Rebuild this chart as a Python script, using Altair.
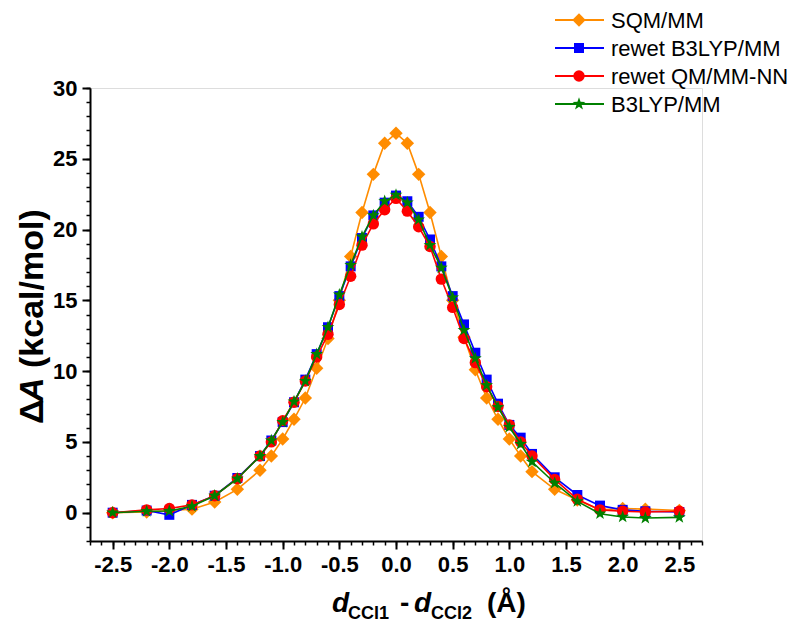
import altair as alt
import pandas as pd

# ---------------- data ----------------
X = [-2.5, -2.2, -2.0, -1.8, -1.6, -1.4, -1.2, -1.1, -1.0, -0.9, -0.8, -0.7, -0.6,
     -0.5, -0.4, -0.3, -0.2, -0.1, 0.0, 0.1, 0.2, 0.3, 0.4, 0.5, 0.6, 0.7, 0.8,
     0.9, 1.0, 1.1, 1.2, 1.4, 1.6, 1.8, 2.0, 2.2, 2.5]

SQM_MM = [0.0, 0.05, 0.15, 0.25, 0.75, 1.65, 3.0, 4.0, 5.2, 6.6, 8.1, 10.2, 12.3,
          15.0, 18.1, 21.2, 23.9, 26.1, 26.8, 26.1, 23.9, 21.2, 18.1, 15.0, 12.4, 10.1, 8.1,
          6.6, 5.2, 4.0, 2.9, 1.65, 0.9, 0.2, 0.3, 0.25, 0.15]

REWET_B3LYP = [0.0, 0.15, -0.15, 0.55, 1.2, 2.45, 4.0, 5.1, 6.4, 7.8, 9.4, 11.2, 13.1,
               15.3, 17.4, 19.4, 21.0, 21.9, 22.4, 22.0, 20.9, 19.3, 17.4, 15.3, 13.3, 11.3, 9.4,
               7.7, 6.2, 5.3, 4.15, 2.5, 1.25, 0.5, 0.2, 0.1, 0.05]

REWET_NN = [0.0, 0.2, 0.3, 0.55, 1.2, 2.4, 4.0, 5.0, 6.5, 7.8, 9.3, 11.0, 12.6,
            14.7, 16.7, 18.9, 20.4, 21.4, 22.2, 21.3, 20.2, 18.8, 16.5, 14.5, 12.3, 10.6, 8.9,
            7.5, 6.2, 5.0, 4.0, 2.35, 0.95, 0.2, 0.1, 0.05, 0.1]

B3LYP_MM = [0.0, 0.1, 0.12, 0.45, 1.2, 2.4, 4.0, 5.1, 6.4, 7.85, 9.3, 11.2, 13.1,
            15.4, 17.5, 19.5, 21.0, 22.0, 22.45, 21.9, 20.7, 18.9, 17.3, 15.2, 12.9, 10.9, 9.0,
            7.45, 6.05, 4.85, 3.6, 2.1, 0.8, -0.07, -0.3, -0.38, -0.33]

NAMES = ["SQM/MM", "rewet B3LYP/MM", "rewet QM/MM-NN", "B3LYP/MM"]
SERIES = [SQM_MM, REWET_B3LYP, REWET_NN, B3LYP_MM]

X_MAJOR = [-2.5, -2.0, -1.5, -1.0, -0.5, 0.0, 0.5, 1.0, 1.5, 2.0, 2.5]
X_MINOR = [round(-2.7 + 0.1 * i, 1) for i in range(55)]
Y_MAJOR = [0, 5, 10, 15, 20, 25, 30]
Y_MINOR = list(range(-2, 31))

# ---------------- style ----------------
FONT = "Liberation Sans"
NBSP = "\u00a0"
COLORS = ["#FF8C00", "#0000FF", "#FF0000", "#008000"]
STAR = ("M0,-1L0.235,-0.324L0.951,-0.309L0.38,0.124L0.588,0.809L0,0.4"
        "L-0.588,0.809L-0.38,0.124L-0.951,-0.309L-0.235,-0.324Z")
SHAPES = ["diamond", "square", "circle", STAR]
SIZES = [180, 100, 130, 180]

W, H = 612, 453
xscale = alt.Scale(domain=[-2.7, 2.7], nice=False, zero=False)
yscale = alt.Scale(domain=[-2, 30], nice=False, zero=False)

x_minor_axis = alt.Axis(values=X_MINOR, labels=False, ticks=True, tickSize=4, tickWidth=1.5,
                        tickColor="black", domain=True, domainColor="black", domainWidth=2,
                        grid=False, title=None, orient="bottom")
x_major_axis = alt.Axis(values=X_MAJOR, labels=True, ticks=True, tickSize=8, tickWidth=2,
                        tickColor="black", domain=False, grid=False, title=None, orient="bottom",
                        labelFont=FONT, labelFontSize=22, labelFontWeight="bold",
                        labelColor="black", labelPadding=5, labelFlush=False, labelOverlap=False,
                        labelExpr="datum.value < 0 ? '-' + format(-datum.value, '.1f') : format(datum.value, '.1f')")
y_minor_axis = alt.Axis(values=Y_MINOR, labels=False, ticks=True, tickSize=4, tickWidth=1.5,
                        tickColor="black", domain=True, domainColor="black", domainWidth=2,
                        grid=False, title=None, orient="left")
y_major_axis = alt.Axis(values=Y_MAJOR, labels=True, ticks=True, tickSize=8, tickWidth=2,
                        tickColor="black", domain=False, grid=False, title=None, orient="left",
                        labelFont=FONT, labelFontSize=22, labelFontWeight="bold",
                        labelColor="black", labelPadding=5, labelFlush=False, labelOverlap=False,
                        format="d")

layers = []
for i, (name, vals) in enumerate(zip(NAMES, SERIES)):
    df = pd.DataFrame({"x": X, "y": vals})
    if i == 0:
        xa, ya = x_minor_axis, y_minor_axis
    elif i == 1:
        xa, ya = x_major_axis, y_major_axis
    else:
        xa, ya = None, None
    base = alt.Chart(df)
    line = base.mark_line(color=COLORS[i], strokeWidth=1.6).encode(
        x=alt.X("x:Q", scale=xscale, axis=xa),
        y=alt.Y("y:Q", scale=yscale, axis=ya),
    )
    pts = base.mark_point(shape=SHAPES[i], size=SIZES[i], filled=True, color=COLORS[i],
                          opacity=1, strokeWidth=0).encode(
        x=alt.X("x:Q", scale=xscale, axis=None),
        y=alt.Y("y:Q", scale=yscale, axis=None),
    )
    layers += [line, pts]

main = alt.layer(*layers).resolve_axis(x="independent", y="independent")

# ---------------- legend (line + marker + label) ----------------
legend_layers = []
LEG_Y0, LEG_STEP = -68, 28
for i, name in enumerate(NAMES):
    ldf = pd.DataFrame({"name": [name]})
    yy = LEG_Y0 + LEG_STEP * i
    lb = alt.Chart(ldf)
    legend_layers.append(lb.mark_rule(color=COLORS[i], strokeWidth=1.8).encode(
        x=alt.value(465), x2=alt.value(514), y=alt.value(yy)))
    legend_layers.append(lb.mark_point(shape=SHAPES[i], size=SIZES[i], filled=True,
                                       color=COLORS[i], opacity=1, strokeWidth=0).encode(
        x=alt.value(489), y=alt.value(yy)))
    legend_layers.append(lb.mark_text(align="left", baseline="middle", font=FONT, fontSize=22,
                                      color="black").encode(
        x=alt.value(521), y=alt.value(yy + 1), text="name:N"))

# ---------------- axis titles (with italics / subscripts) ----------------
def txt(s, x, y, size, style="normal", weight="bold", angle=0, align="left"):
    return alt.Chart(pd.DataFrame({"t": [s]})).mark_text(
        align=align, baseline="alphabetic", font=FONT, fontSize=size, fontStyle=style,
        fontWeight=weight, angle=angle, color="black").encode(
        x=alt.value(x), y=alt.value(y), text="t:N")

XT_Y = 524
XS_Y = 531
x_title = [
    txt("d", 242, XT_Y, 28, style="italic"),
    txt("CCl1", 258, XS_Y, 18),
    txt("-", 310, XT_Y, 28),
    txt("d", 324, XT_Y, 28, style="italic"),
    txt("CCl2", 341, XS_Y, 18),
    txt("(Å)", 397, XT_Y, 28),
]

YT_X = -47
y_title = [
    txt("Δ", YT_X, 336, 34, angle=270),
    txt("A", YT_X, 314, 34, style="italic", angle=270),
    txt("(kcal/mol)", YT_X, 280, 34, angle=270),
]

chart = alt.layer(main, *legend_layers, *x_title, *y_title).properties(
    width=W, height=H,
    autosize=alt.AutoSizeParams(type="none"),
    padding={"left": 82, "top": 80, "right": 90, "bottom": 82},
).configure_view(stroke=None).configure(background="white")

chart.save("out.html", embed_options={"renderer": "svg", "actions": False})
